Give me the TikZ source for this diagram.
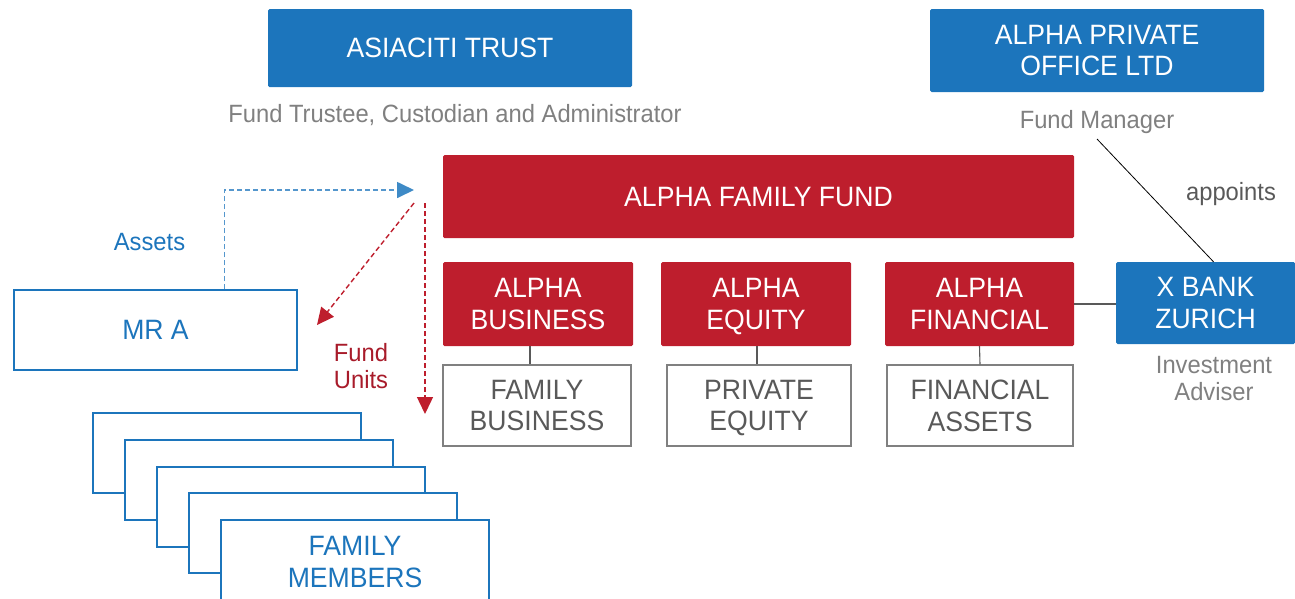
\documentclass[tikz,border=0pt]{standalone}
\usepackage{fontspec}
\setmainfont{Liberation Sans}[FakeStretch=0.95]
\usetikzlibrary{arrows.meta}
\definecolor{cblue}{RGB}{28,117,188}
\definecolor{cred}{RGB}{190,30,45}
\definecolor{cdred}{RGB}{168,27,42}
\definecolor{cgray}{RGB}{128,128,128}
\definecolor{cdark}{RGB}{89,89,89}
\begin{document}
\begin{tikzpicture}[x=1pt,y=-1pt,
  bigfont/.style={font=\fontsize{28}{31.7}\selectfont},
  smallfont/.style={font=\fontsize{25}{27}\selectfont},
  bluebox/.style={fill=cblue, rounded corners=1.5pt, text=white, bigfont, align=center, inner sep=0pt, text depth=0pt},
  redbox/.style={fill=cred, rounded corners=1.5pt, text=white, bigfont, align=center, inner sep=0pt, text depth=0pt},
  graybox/.style={draw=cgray, line width=1.2pt, fill=white, text=cdark, bigfont, align=center, inner sep=0pt, text depth=0pt},
  personbox/.style={draw=cblue, line width=1.1pt, fill=white, text=cblue, bigfont, align=center, inner sep=0pt, text depth=0pt, minimum width=268pt, minimum height=80pt},
  caption/.style={text=cgray, smallfont, align=center, inner sep=0pt},
  link/.style={draw=cdark, line width=1.1pt},
  bluedash/.style={draw=cblue!75, line width=1.7pt, dash pattern=on 5pt off 3pt, -{Triangle[length=17pt,width=16pt,color=cblue!85]}},
  reddash/.style={draw=cred, line width=1.4pt, dash pattern=on 5pt off 3pt, -{Triangle[length=17pt,width=16pt]}, cred}
]
\useasboundingbox (0,0) rectangle (1295,598);

% top blue boxes
\node[bluebox, minimum width=364pt, minimum height=78pt] (trust) at (450,48) {ASIACITI TRUST};
\node[caption, anchor=base] (trustcap) at (455,122) {Fund Trustee, Custodian and Administrator};
\node[bluebox, minimum width=334pt, minimum height=83pt] (apo) at (1097,50.5) {ALPHA PRIVATE\\OFFICE LTD};
\node[caption, anchor=base] (fm) at (1097,128) {Fund Manager};

% fund
\node[redbox, minimum width=631pt, minimum height=83pt] (fund) at (758.5,196.5) {ALPHA FAMILY FUND};
\node[text=cdark, smallfont, inner sep=0pt, anchor=base] (appoints) at (1231,200) {appoints};

% sub-funds
\node[redbox, minimum width=190pt, minimum height=84pt] (ab) at (538,304) {ALPHA\\BUSINESS};
\node[redbox, minimum width=190pt, minimum height=84pt] (ae) at (756,304) {ALPHA\\EQUITY};
\node[redbox, minimum width=189pt, minimum height=84pt] (af) at (979.5,304) {ALPHA\\FINANCIAL};
\node[bluebox, minimum width=179pt, minimum height=82pt] (xb) at (1205.5,303) {X BANK\\ZURICH};
\node[caption, text depth=0pt] (ia) at (1214,378.5) {Investment\\Adviser};

% assets
\node[graybox, minimum width=188pt, minimum height=81pt] (fb) at (537,405.5) {FAMILY\\BUSINESS};
\node[graybox, minimum width=184pt, minimum height=81pt] (pe) at (759,405.5) {PRIVATE\\EQUITY};
\node[graybox, minimum width=186pt, minimum height=81pt] (fa) at (980,405.5) {FINANCIAL\\ASSETS};

\draw[link] (ab.south -| fb.north) ++(-7,0) coordinate (abs) -- (abs |- fb.north);
\draw[link] ([xshift=1pt]ae.south) -- ([xshift=-2pt]pe.north);
\draw[link] (af.south) -- (fa.north);
\draw[link] (af.east) -- (af.east -| xb.west);
\coordinate (fmlow) at (1097,139);
\draw[black, line width=0.8pt] (fmlow) -- ([xshift=8pt]xb.north);

% Mr A
\node[personbox, minimum width=283pt] (mra) at (155.5,330) {MR A};
\node[text=cblue, smallfont, inner sep=0pt, anchor=base] (assets) at (149.5,250) {Assets};
\node[text=cdred, smallfont, align=center, inner sep=0pt, text depth=0pt] (units) at (361,365.5) {Fund\\Units};

% family members stack
\node[personbox] (f1) at (227,453) {};
\node[personbox] (f2) at (259,480) {};
\node[personbox] (f3) at (291,507) {};
\node[personbox] (f4) at (323,533) {};
\node[personbox, minimum height=82pt] (f5) at (355,561) {};
\node[text=cblue, bigfont, align=center, inner sep=0pt, text depth=0pt] (fmtext) at (355,562) {FAMILY\\MEMBERS};

% flows
\coordinate (fin) at (414,190);
\coordinate (fout1) at (414,203);
\coordinate (fout1end) at (317,325);
\coordinate (fout2) at (425,203);
\coordinate (fout2end) at (425,414);
\draw[bluedash] ([xshift=-73pt]mra.north east) -- ([xshift=-73pt]mra.north east |- fin) -- (fin);
\draw[reddash] (fout1) -- (fout1end);
\draw[reddash] (fout2) -- (fout2end);
\end{tikzpicture}
\end{document}
